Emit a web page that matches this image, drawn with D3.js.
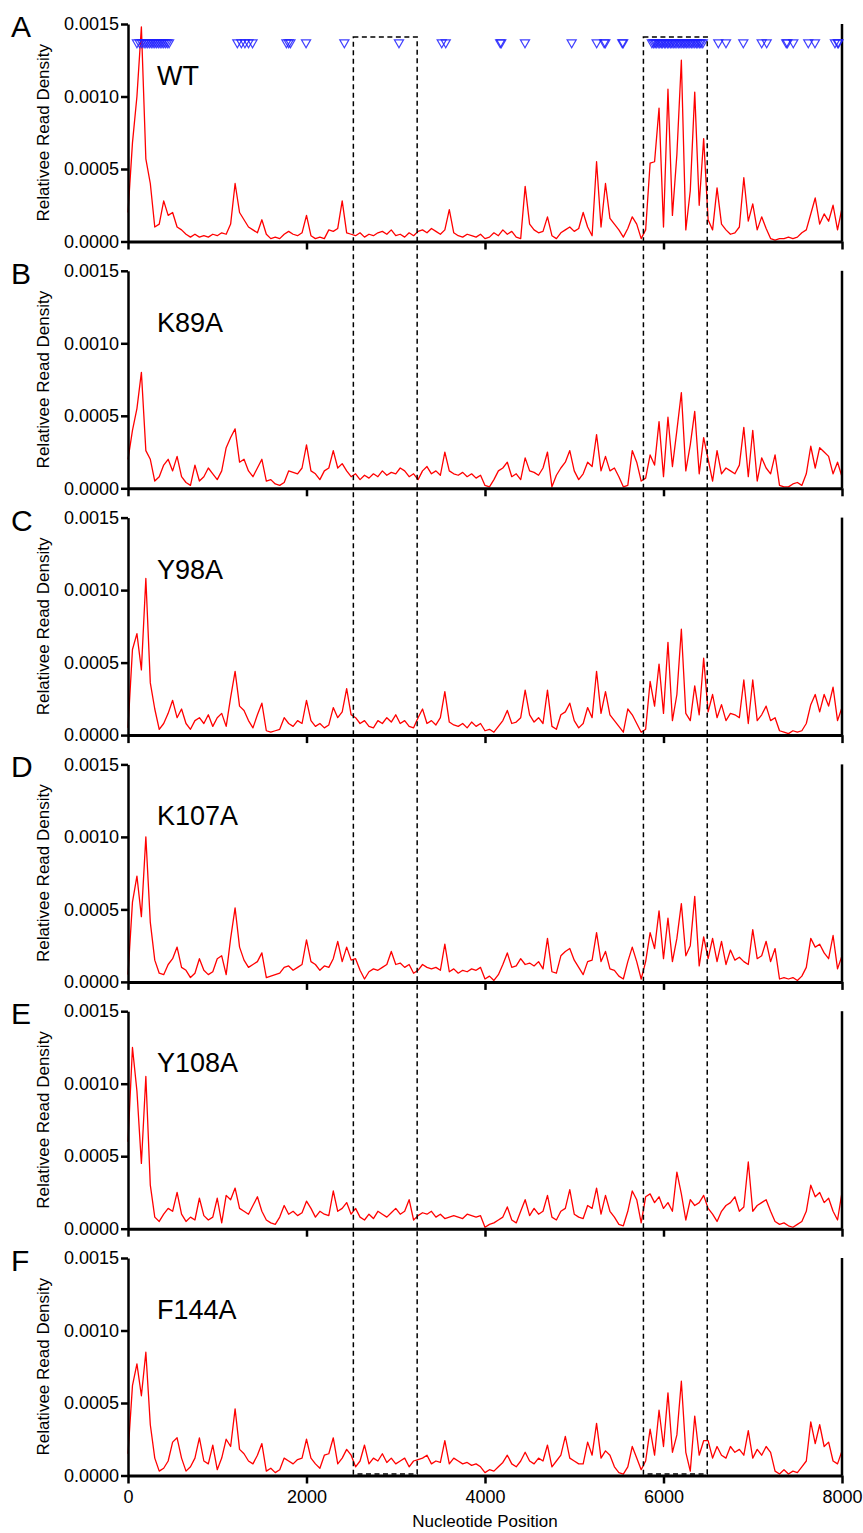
<!DOCTYPE html>
<html>
<head>
<meta charset="utf-8">
<script src="https://cdn.jsdelivr.net/npm/d3@7"></script>
<style>
  body { margin: 0; background: #fff; }
  svg { display: block; }
</style>
</head>
<body>
<svg id="chart" width="863" height="1533"></svg>
<script>
// ---- data (read values are in units of 1e-5) ----
const panelLetters = ['A', 'B', 'C', 'D', 'E', 'F'];
const sampleNames = ['WT', 'K89A', 'Y98A', 'K107A', 'Y108A', 'F144A'];
const xTicks = [0, 2000, 4000, 6000, 8000];
const yTicks = [0, 0.0005, 0.0010, 0.0015];
const UNIT = 1e-5;
const positions = d3.range(0, 8001, 50); // nucleotide grid, one value per 50 nt

const wt = [
  20, 68, 100, 148, 57, 40, 10, 12, 28, 18,
  20, 10, 8, 5, 3, 5, 3, 4, 3, 5,
  4, 6, 5, 12, 40, 20, 15, 10, 8, 6,
  15, 5, 2, 3, 2, 5, 7, 5, 4, 6,
  18, 4, 2, 3, 2, 8, 7, 9, 28, 6,
  5, 4, 6, 3, 5, 4, 6, 7, 5, 8,
  4, 5, 3, 6, 4, 7, 8, 6, 9, 7,
  5, 8, 22, 6, 4, 3, 5, 4, 3, 5,
  2, 3, 6, 4, 8, 5, 7, 3, 2, 38,
  12, 8, 6, 7, 17, 4, 2, 6, 8, 10,
  7, 9, 20, 10, 4, 55, 10, 40, 16, 12,
  8, 3, 9, 17, 12, 2, 8, 54, 55, 92,
  10, 105, 18, 60, 125, 8, 35, 103, 25, 71,
  15, 8, 37, 12, 8, 5, 6, 10, 44, 14,
  26, 8, 17, 9, 2, 1, 2, 2, 3, 2,
  3, 6, 8, 19, 30, 12, 19, 14, 25, 8,
  23
];
const k89a = [
  20, 40, 55, 80, 26, 20, 5, 8, 16, 20,
  12, 22, 8, 4, 2, 16, 5, 8, 14, 10,
  6, 12, 28, 35, 41, 18, 20, 12, 8, 14,
  20, 5, 6, 3, 2, 4, 12, 11, 10, 14,
  30, 12, 10, 6, 12, 14, 26, 14, 17, 12,
  8, 10, 6, 9, 7, 10, 8, 12, 9, 11,
  10, 14, 12, 8, 10, 6, 12, 15, 10, 12,
  9, 25, 12, 10, 9, 11, 8, 10, 7, 9,
  2, 1, 6, 12, 14, 18, 8, 10, 6, 21,
  12, 11, 9, 14, 25, 1, 9, 14, 18, 26,
  12, 6, 10, 18, 15, 37, 12, 22, 12, 14,
  8, 1, 2, 26, 18, 5, 7, 23, 16, 46,
  8, 49, 15, 40, 66, 12, 30, 53, 10, 35,
  20, 5, 26, 10, 14, 12, 10, 16, 42, 8,
  40, 5, 21, 14, 10, 23, 2, 1, 1, 3,
  4, 2, 10, 29, 14, 28, 25, 22, 10, 18,
  8
];
const y98a = [
  5, 59, 70, 45, 108, 36, 18, 4, 8, 15,
  24, 12, 18, 8, 4, 10, 12, 8, 14, 6,
  12, 15, 6, 26, 44, 20, 17, 10, 5, 14,
  22, 3, 2, 3, 4, 12, 8, 6, 10, 8,
  24, 10, 6, 8, 5, 7, 19, 12, 16, 32,
  14, 12, 8, 10, 6, 5, 10, 8, 12, 9,
  14, 8, 10, 6, 5, 12, 18, 8, 10, 7,
  12, 30, 9, 7, 6, 8, 5, 9, 6, 8,
  3, 4, 2, 6, 10, 17, 8, 9, 12, 31,
  14, 9, 12, 8, 31, 6, 4, 14, 16, 22,
  10, 5, 8, 19, 12, 44, 15, 30, 14, 10,
  6, 2, 18, 14, 8, 2, 4, 37, 20, 49,
  15, 64, 10, 28, 73, 15, 10, 34, 14, 53,
  16, 28, 12, 21, 10, 15, 14, 12, 38, 8,
  38, 10, 14, 20, 10, 12, 3, 2, 1, 3,
  2, 3, 8, 21, 28, 16, 28, 20, 33, 10,
  19
];
const k107a = [
  5, 55, 73, 45, 100, 41, 15, 6, 5, 12,
  16, 24, 10, 8, 3, 6, 16, 8, 5, 7,
  16, 18, 5, 30, 51, 24, 15, 10, 12, 14,
  20, 3, 4, 5, 6, 10, 11, 8, 10, 12,
  29, 14, 12, 8, 11, 10, 16, 28, 14, 24,
  15, 16, 8, 2, 7, 9, 8, 10, 12, 21,
  12, 13, 10, 12, 6, 8, 12, 10, 9, 10,
  8, 26, 7, 9, 6, 8, 7, 9, 8, 10,
  2, 4, 1, 5, 12, 20, 10, 11, 16, 12,
  13, 11, 14, 9, 30, 7, 6, 18, 21, 23,
  15, 10, 5, 14, 15, 34, 14, 21, 9, 8,
  4, 2, 14, 24, 14, 2, 14, 34, 23, 49,
  16, 44, 14, 30, 54, 18, 25, 59, 11, 31,
  16, 30, 14, 28, 12, 22, 15, 17, 14, 12,
  36, 16, 18, 28, 14, 23, 2, 3, 2, 3,
  1, 4, 10, 30, 24, 26, 20, 16, 32, 9,
  18
];
const y108a = [
  60, 125, 95, 45, 105, 30, 8, 5, 10, 14,
  12, 25, 10, 5, 8, 6, 21, 9, 6, 8,
  21, 4, 23, 20, 28, 14, 12, 10, 16, 22,
  12, 6, 4, 3, 8, 16, 10, 12, 9, 11,
  19, 14, 8, 12, 10, 9, 26, 12, 14, 18,
  10, 14, 8, 6, 10, 7, 12, 10, 8, 11,
  14, 10, 12, 20, 6, 9, 11, 10, 12, 8,
  10, 7, 8, 9, 8, 7, 10, 9, 8, 9,
  1, 3, 4, 6, 8, 15, 6, 4, 12, 20,
  9, 14, 10, 12, 23, 8, 6, 12, 14, 27,
  10, 8, 7, 16, 14, 28, 10, 23, 12, 8,
  3, 2, 12, 26, 20, 4, 22, 24, 18, 22,
  14, 18, 12, 39, 24, 6, 20, 16, 18, 23,
  14, 10, 5, 12, 16, 18, 22, 12, 15, 46,
  12, 16, 18, 20, 12, 5, 3, 4, 2, 1,
  3, 5, 12, 30, 22, 25, 18, 21, 12, 6,
  25
];
const f144a = [
  15, 62, 77, 55, 85, 35, 12, 3, 5, 10,
  23, 26, 12, 3, 6, 12, 26, 10, 8, 21,
  4, 12, 25, 20, 46, 18, 15, 10, 8, 14,
  22, 3, 5, 2, 4, 12, 10, 8, 11, 12,
  25, 12, 8, 5, 14, 15, 26, 8, 12, 18,
  14, 6, 10, 21, 8, 12, 10, 15, 9, 12,
  8, 10, 12, 6, 10, 11, 12, 14, 8, 10,
  9, 24, 8, 12, 10, 8, 9, 7, 8, 6,
  2, 4, 3, 6, 9, 14, 8, 6, 10, 16,
  10, 8, 12, 10, 21, 6, 10, 14, 27, 12,
  10, 8, 8, 23, 14, 36, 12, 17, 14, 6,
  2, 1, 6, 20, 12, 4, 10, 32, 14, 45,
  20, 57, 16, 28, 65, 16, 3, 41, 14, 24,
  24, 12, 20, 14, 12, 20, 16, 18, 14, 31,
  12, 18, 14, 20, 16, 3, 1, 4, 1, 3,
  2, 6, 10, 37, 22, 35, 20, 23, 10, 8,
  17
];
const series = [wt, k89a, y98a, k107a, y108a, f144a];

// boxed regions (nt) and WT site markers (nt)
const regions = [[2525, 3240], [5775, 6490]];
const wtSites = [
  100, 130, 155, 180, 200, 220, 240, 260, 280, 300, 320, 340, 360, 380, 400, 420, 440, 460,
  1225, 1270, 1310, 1350, 1395,
  1775, 1800, 1820, 1995, 2424, 3036, 3515, 3560,
  4170, 4182, 4448, 4971, 5251, 5335, 5348, 5538, 5548,
  5870, 5888, 5905, 5920, 5940, 5958, 5975, 5990, 6010, 6025, 6045, 6060, 6080, 6095,
  6115, 6130, 6150, 6170, 6185, 6205, 6222, 6240, 6258, 6275, 6295, 6312, 6330, 6350,
  6368, 6385, 6405, 6420, 6440,
  6614, 6700, 6894, 7100, 7156, 7375, 7388, 7454, 7622, 7697, 7921, 7952, 7960
];

// ---- layout ----
const FONT = '"Liberation Sans", Arial, Helvetica, sans-serif';
const svg = d3.select('#chart');
const x = d3.scaleLinear().domain([0, 8000]).range([128, 842]);
const panelH = 217.5;
const panelTop = i => 24 + i * 246.8;

/**
 * Draw one panel: axes, frame line, trace and labels
 */
function drawPanel(vals, i) {
  const top = panelTop(i);
  const bottom = top + panelH;
  const y = d3.scaleLinear().domain([0, 0.0015]).range([bottom, top]);
  const g = svg.append('g').attr('class', 'panel');

  // red trace
  const line = d3.line()
    .x((d, j) => x(positions[j]))
    .y(d => y(d * UNIT));
  g.append('path')
    .datum(vals)
    .attr('d', line)
    .attr('fill', 'none')
    .attr('stroke', '#ff0000')
    .attr('stroke-width', 1.3)
    .attr('stroke-linejoin', 'round');

  // right frame line
  g.append('line')
    .attr('x1', x(8000)).attr('x2', x(8000))
    .attr('y1', top).attr('y2', bottom)
    .attr('stroke', '#000')
    .attr('stroke-width', 2.5);

  // x axis
  const isLast = i === series.length - 1;
  const xAxis = d3.axisBottom(x)
    .tickValues(xTicks)
    .tickSize(8)
    .tickSizeOuter(0)
    .tickPadding(7)
    .tickFormat(isLast ? d3.format('d') : () => '');
  g.append('g')
    .attr('transform', `translate(0,${bottom})`)
    .call(xAxis)
    .attr('font-family', FONT)
    .attr('font-size', 18)
    .call(a => a.select('.domain').attr('stroke-width', 3))
    .call(a => a.selectAll('.tick line').attr('stroke-width', 2.5))
    .call(a => a.selectAll('.tick text').attr('fill', '#000'));

  // y axis
  const yAxis = d3.axisLeft(y)
    .tickValues(yTicks)
    .tickFormat(d3.format('.4f'))
    .tickSize(7)
    .tickSizeOuter(0)
    .tickPadding(2);
  g.append('g')
    .attr('transform', `translate(${x(0)},0)`)
    .call(yAxis)
    .attr('font-family', FONT)
    .attr('font-size', 18)
    .call(a => a.select('.domain').attr('stroke-width', 2.5))
    .call(a => a.selectAll('.tick line').attr('stroke-width', 2.5))
    .call(a => a.selectAll('.tick text').attr('fill', '#000'));

  // y title
  g.append('text')
    .attr('transform', `translate(49,${top + panelH / 2}) rotate(-90)`)
    .attr('text-anchor', 'middle')
    .attr('font-family', FONT)
    .attr('font-size', 17)
    .text('Relativee Read Density');

  // panel letter
  g.append('text')
    .attr('x', 11)
    .attr('y', top + 13)
    .attr('font-family', FONT)
    .attr('font-size', 30)
    .text(panelLetters[i]);

  // sample name
  g.append('text')
    .attr('x', 157)
    .attr('y', top + 61)
    .attr('font-family', FONT)
    .attr('font-size', 27)
    .text(sampleNames[i]);
}

series.forEach(drawPanel);

// WT site markers (open, inverted triangles)
const tri = d3.symbol().type(d3.symbolTriangle).size(36);
svg.append('g')
  .selectAll('path')
  .data(wtSites)
  .join('path')
  .attr('d', tri)
  .attr('transform', d => `translate(${x(d)},42.5) rotate(180)`)
  .attr('fill', 'none')
  .attr('stroke', '#1f1fff')
  .attr('stroke-opacity', 0.85)
  .attr('stroke-width', 1.2);

// dashed regions spanning all panels
svg.append('g')
  .selectAll('rect')
  .data(regions)
  .join('rect')
  .attr('x', d => x(d[0]))
  .attr('y', 37)
  .attr('width', d => x(d[1]) - x(d[0]))
  .attr('height', 1474 - 37)
  .attr('fill', 'none')
  .attr('stroke', '#000')
  .attr('stroke-width', 1.5)
  .attr('stroke-dasharray', '5,3.5');

// x title
svg.append('text')
  .attr('x', (x(0) + x(8000)) / 2)
  .attr('y', 1527)
  .attr('text-anchor', 'middle')
  .attr('font-family', FONT)
  .attr('font-size', 17)
  .text('Nucleotide Position');
</script>
</body>
</html>
